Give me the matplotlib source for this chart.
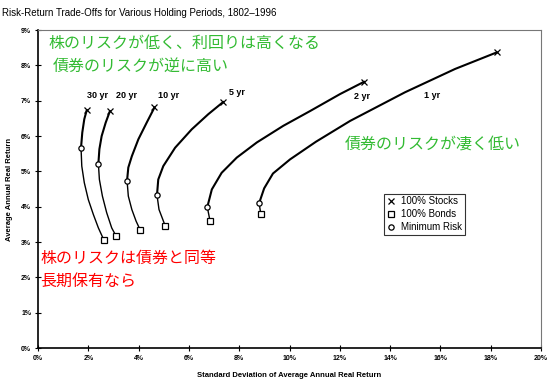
import matplotlib.pyplot as plt
from matplotlib.lines import Line2D

# holding periods, each frontier read from the bonds end up to the stocks end
periods = ["30 yr", "20 yr", "10 yr", "5 yr", "2 yr", "1 yr"]

risk_30 = [2.61, 2.40, 2.20, 2.00, 1.84, 1.74, 1.71, 1.76, 1.84, 1.94]
ret_30 = [3.07, 3.40, 3.78, 4.20, 4.68, 5.15, 5.67, 6.10, 6.48, 6.74]
risk_20 = [3.11, 2.93, 2.73, 2.56, 2.44, 2.40, 2.44, 2.53, 2.69, 2.86]
ret_20 = [3.16, 3.40, 3.83, 4.30, 4.77, 5.22, 5.63, 6.00, 6.38, 6.71]
risk_10 = [4.07, 3.90, 3.73, 3.59, 3.54, 3.59, 3.73, 3.99, 4.32, 4.63]
ret_10 = [3.33, 3.59, 3.92, 4.30, 4.74, 5.11, 5.43, 5.91, 6.38, 6.81]
risk_5 = [5.06, 4.96, 4.81, 4.73, 4.78, 4.98, 5.45, 6.11, 6.77, 7.37]
ret_5 = [3.45, 3.64, 3.92, 4.33, 4.77, 5.15, 5.67, 6.19, 6.62, 6.97]
risk_2 = [6.84, 6.73, 6.91, 7.30, 7.90, 8.70, 9.75, 10.82, 12.01, 12.97]
ret_2 = [3.59, 3.99, 4.49, 4.96, 5.39, 5.82, 6.29, 6.71, 7.19, 7.54]
risk_1 = [8.86, 8.79, 8.99, 9.34, 10.02, 11.05, 12.41, 14.59, 16.58, 18.24]
ret_1 = [3.78, 4.10, 4.52, 4.94, 5.34, 5.84, 6.43, 7.24, 7.90, 8.37]

# index of the minimum-risk point on each curve
min_idx = [6, 5, 4, 3, 1, 1]

# period label positions
label_x = [2.35, 3.50, 5.17, 7.91, 12.88, 15.67]
label_y = [7.16, 7.16, 7.16, 7.22, 7.13, 7.16]

curves = [(risk_30, ret_30), (risk_20, ret_20), (risk_10, ret_10),
          (risk_5, ret_5), (risk_2, ret_2), (risk_1, ret_1)]

jp = ["Noto Sans CJK JP", "DejaVu Sans"]
sans = ["Liberation Sans", "DejaVu Sans"]

fig = plt.figure(figsize=(5.59, 3.81), dpi=100)
ax = fig.add_axes([0.068, 0.0866, 0.9, 0.8344])

mk = dict(color="black", ms=4, mew=0.9, zorder=3)
for (xs, ys), mi in zip(curves, min_idx):
    # thinner below the minimum-risk point, heavier above it
    ax.plot(xs[:mi + 1], ys[:mi + 1], color="black", lw=1.0, zorder=2,
            solid_joinstyle="round")
    ax.plot(xs[mi:], ys[mi:], color="black", lw=1.5, zorder=2,
            solid_joinstyle="round", solid_capstyle="round")
    ax.plot(xs[-1], ys[-1], marker="x", **mk)
    ax.plot(xs[0], ys[0], marker="s", mfc="white", mec="black", ms=3.8, mew=0.9, zorder=3)
    ax.plot(xs[mi], ys[mi], marker="o", mfc="white", mec="black", ms=3.8, mew=0.9, zorder=3)

for name, lx, ly in zip(periods, label_x, label_y):
    ax.text(lx, ly, name, fontsize=6.5, family=sans, fontweight="bold",
            ha="center", va="center")

ax.set_xlim(0, 20)
ax.set_ylim(0, 9)
ax.set_xticks(range(0, 21, 2))
ax.set_xticklabels(["%d%%" % v for v in range(0, 21, 2)])
ax.set_yticks(range(0, 10))
ax.set_yticklabels(["%d%%" % v for v in range(0, 10)])
ax.tick_params(direction="inout", length=4, width=0.8, labelsize=5, pad=3)
for lab in ax.get_xticklabels() + ax.get_yticklabels():
    lab.set_fontweight("bold")
    lab.set_family(sans)
for s in ["top", "right"]:
    ax.spines[s].set_color("#777777")
ax.spines["left"].set_linewidth(1.2)
ax.spines["bottom"].set_linewidth(1.2)

ax.set_xlabel("Standard Deviation of Average Annual Real Return", fontsize=5.5,
              fontweight="bold", family=sans, labelpad=7)
ax.set_ylabel("Average Annual Real Return", fontsize=5.5,
              fontweight="bold", family=sans, labelpad=6)

fig.text(0.004, 0.966, "Risk-Return Trade-Offs for Various Holding Periods, 1802\u20131996",
         fontsize=7.0, family=sans, ha="left", va="center")

green = "#33bb33"
ax.text(0.4, 8.62, "株のリスクが低く、利回りは高くなる", color=green,
        fontsize=11.5, family=jp, va="center")
ax.text(0.6, 7.97, "債券のリスクが逆に高い", color=green,
        fontsize=11.5, family=jp, va="center")
ax.text(12.2, 5.78, "債券のリスクが凄く低い", color=green,
        fontsize=11.5, family=jp, va="center")
ax.text(0.1, 2.55, "株のリスクは債券と同等", color="red",
        fontsize=11.5, family=jp, va="center")
ax.text(0.1, 1.9, "長期保有なら", color="red",
        fontsize=11.5, family=jp, va="center")

handles = [Line2D([], [], ls="none", marker="x", color="black", ms=4, mew=0.9),
           Line2D([], [], ls="none", marker="s", mfc="white", mec="black", ms=3.8, mew=0.9),
           Line2D([], [], ls="none", marker="o", mfc="white", mec="black", ms=3.8, mew=0.9)]
leg = ax.legend(handles, ["100% Stocks", "100% Bonds", "Minimum Risk"],
                loc="upper left", bbox_to_anchor=(0.688, 0.486),
                prop={"family": sans, "size": 7}, frameon=True, fancybox=False,
                edgecolor="black", handlelength=0.8, handletextpad=0.6,
                borderpad=0.3, labelspacing=0.3, borderaxespad=0)
leg.get_frame().set_linewidth(0.8)

plt.savefig("out.png", dpi=100)
